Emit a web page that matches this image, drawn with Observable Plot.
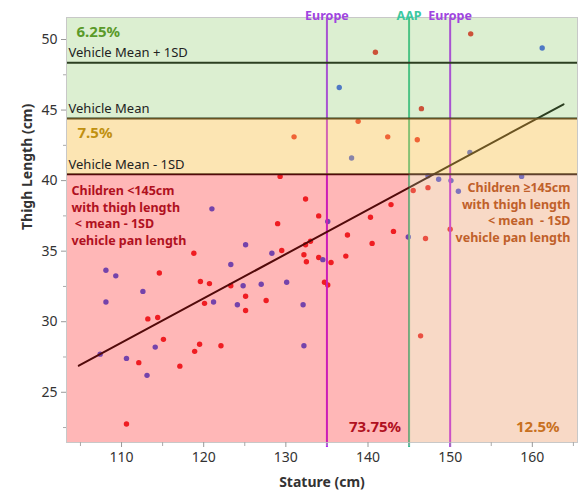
<!DOCTYPE html>
<html><head><meta charset="utf-8">
<script src="https://cdn.jsdelivr.net/npm/d3@7"></script>
<script src="https://cdn.jsdelivr.net/npm/@observablehq/plot@0.6"></script>
<style>
body{margin:0;background:#fff;}
</style></head><body><div id="chart"></div>
<script>
// ---- data ----
const statureRed = [152.5,140.9,146.5,138.8,131.0,142.4,146.0,145.5,147.3,147.0,150.0,146.4,
  129.3,132.4,134.0,140.3,142.8,137.5,140.5,143.1,132.4,133.0,
  129.5,132.2,132.5,134.0,135.5,137.3,134.7,135.1,129.0,118.8,
  114.6,119.6,120.7,123.3,120.1,125.1,125.1,127.6,113.2,114.4,
  115.1,112.1,117.1,118.9,119.5,122.1,110.6];
const thighRed = [50.4,49.1,45.1,44.2,43.1,43.1,42.9,39.3,39.5,35.9,36.55,29.0,
  40.3,38.7,37.5,37.4,38.3,36.15,35.55,36.4,35.45,35.7,
  35.05,34.75,34.25,34.55,34.2,34.65,32.8,32.6,36.95,34.85,
  33.45,32.85,32.7,32.55,31.3,31.8,30.8,31.5,30.2,30.3,
  28.75,27.1,26.85,27.9,28.4,28.3,22.75];
const statureBlue = [161.2,136.5,138.0,152.4,158.7,147.3,148.6,150.1,151.0,
  135.1,144.9,134.5,130.1,132.1,132.2,121.0,128.3,125.1,123.3,108.1,109.3,
  112.6,124.8,127.0,108.1,121.2,124.1,107.4,110.6,114.1,113.1];
const thighBlue = [49.4,46.6,41.6,42.0,40.3,40.35,40.1,40.0,39.25,
  37.1,36.0,34.4,32.8,31.2,28.3,38.0,34.85,35.45,34.05,33.65,33.25,
  32.15,32.55,32.65,31.4,31.4,31.2,27.7,27.4,28.2,26.2];
const fitStature = [104.8, 163.8];
const fitThigh = [26.88, 45.41];
const vehicleLevels = [40.45, 44.4, 48.35];          // mean-1SD, mean, mean+1SD
const vehicleLabels = ["Vehicle Mean - 1SD", "Vehicle Mean", "Vehicle Mean + 1SD"];
const europeStature = [135, 150];
const aapStature = [145];
const xTicks = [110, 120, 130, 140, 150, 160];
const xMinorTicks = [105, 115, 125, 135, 145, 155, 165];
const yTicks = [25, 30, 35, 40, 45, 50];
const yMinorTicks = [22.5, 27.5, 32.5, 37.5, 42.5, 47.5];
const regionShares = ["6.25%", "7.5%", "73.75%", "12.5%"];
const xDomain = [103.3, 165.5];
const yDomain = [21.44, 51.56];

// ---- build tables ----
const redPts = statureRed.map((s, i) => ({x: s, y: thighRed[i]}));
const bluePts = statureBlue.map((s, i) => ({x: s, y: thighBlue[i]}));
const fitPts = fitStature.map((s, i) => ({x: s, y: fitThigh[i]}));
const [minus1, mean, plus1] = vehicleLevels;
const aap = aapStature[0];

const font = "'Noto Sans', 'Open Sans', sans-serif";
const band = (x1, x2, y1, y2, fill, op) =>
  Plot.rect([{x1, x2, y1, y2}], {x1: "x1", x2: "x2", y1: "y1", y2: "y2", fill, fillOpacity: op});
const lab = (text, opts) => Plot.text([text], {text: d => d, fontFamily: font, ...opts});

const chart = Plot.plot({
  width: 582, height: 492,
  marginLeft: 66, marginRight: 5, marginTop: 17, marginBottom: 50,
  x: {domain: xDomain},
  y: {domain: yDomain},
  style: {fontFamily: font, background: "#fff", overflow: "visible"},
  marks: [
    Plot.dot(redPts, {x: "x", y: "y", r: 2.7, fill: "#e81c24"}),
    Plot.dot(bluePts, {x: "x", y: "y", r: 2.7, fill: "#3355ee"}),
    Plot.ruleX(europeStature, {stroke: "#b41dff", strokeWidth: 2, insetBottom: -5}),
    Plot.ruleX(aapStature, {stroke: "#30c090", strokeWidth: 2, insetBottom: -5}),
    Plot.ruleY(vehicleLevels, {stroke: "#000", strokeWidth: 2}),
    Plot.line(fitPts, {x: "x", y: "y", stroke: "#000", strokeWidth: 2}),
    band(xDomain[0], xDomain[1], mean, yDomain[1], "#8fcc6a", 0.31),
    band(xDomain[0], xDomain[1], minus1, mean, "#f9c24f", 0.43),
    band(xDomain[0], aap, yDomain[0], minus1, "#ff2020", 0.32),
    band(aap, xDomain[1], yDomain[0], minus1, "#eea070", 0.4),
    Plot.frame({stroke: "#c8c8c8"}),
    Plot.axisX({ticks: xTicks, tickSize: 5, tickPadding: 5, fontSize: 14, label: null, stroke: "#999", fill: "#333"}),
    Plot.axisX({ticks: xMinorTicks, tickSize: 4, tickFormat: () => "", label: null, stroke: "#aaa"}),
    Plot.axisY({ticks: yTicks, tickSize: 5, tickPadding: 4, fontSize: 14, label: null, stroke: "#999", fill: "#333"}),
    Plot.axisY({ticks: yMinorTicks, tickSize: 3, tickFormat: () => "", label: null, stroke: "#aaa"}),
    // vehicle level labels
    Plot.text(vehicleLevels, {y: d => d, text: (d, i) => vehicleLabels[i], frameAnchor: "left", textAnchor: "start", dx: 2, dy: -9.5, fontSize: 13, fill: "#222", fontFamily: font}),
    // top labels of vertical lines
    Plot.text(europeStature, {x: d => d, text: () => "Europe", frameAnchor: "top", dy: -6, fontSize: 12.5, fontWeight: "bold", fill: "#a045e0", fontFamily: font}),
    Plot.text(aapStature, {x: d => d, text: () => "AAP", frameAnchor: "top", dy: -6, fontSize: 12.5, fontWeight: "bold", fill: "#3cc8a0", fontFamily: font}),
    // percentages
    lab(regionShares[0], {frameAnchor: "top-left", textAnchor: "start", lineAnchor: "middle", dx: 10, dy: 15, fontSize: 15, fontWeight: "bold", fill: "#5a9a2a"}),
    Plot.text([regionShares[1]], {y: mean, text: d => d, frameAnchor: "left", textAnchor: "start", dx: 11, dy: 15, fontSize: 15, fontWeight: "bold", fill: "#c09010", fontFamily: font}),
    Plot.text([regionShares[2]], {x: aap, text: d => d, frameAnchor: "bottom", textAnchor: "end", lineAnchor: "middle", dx: -8, dy: -15, fontSize: 15, fontWeight: "bold", fill: "#b01020", fontFamily: font}),
    lab(regionShares[3], {frameAnchor: "bottom-right", textAnchor: "end", lineAnchor: "middle", dx: -18, dy: -15, fontSize: 15, fontWeight: "bold", fill: "#c87020"}),
    // region notes
    Plot.text(["Children <145cm\nwith thigh length\n\u00a0< mean - 1SD\nvehicle pan length"], {y: minus1, text: d => d, frameAnchor: "left", textAnchor: "start", lineAnchor: "top", dx: 5, dy: 9, lineHeight: 1.33, fontSize: 12.5, fontWeight: "bold", fill: "#b01020", fontFamily: font}),
    Plot.text(["Children \u2265145cm\nwith thigh length\n< mean  - 1SD\nvehicle pan length"], {y: minus1, text: d => d, frameAnchor: "right", textAnchor: "end", lineAnchor: "top", dx: -7, dy: 6, lineHeight: 1.33, fontSize: 12.5, fontWeight: "bold", fill: "#c0602a", fontFamily: font}),
    // axis titles
    lab("Stature (cm)", {frameAnchor: "bottom", lineAnchor: "middle", dy: 40, fontSize: 14, fontWeight: "bold", fill: "#333"}),
    lab("Thigh Length (cm)", {frameAnchor: "left", rotate: -90, lineAnchor: "middle", dx: -39, fontSize: 14, fontWeight: "bold", fill: "#333"})
  ]
});
document.getElementById("chart").appendChild(chart);
</script>
</body></html>
